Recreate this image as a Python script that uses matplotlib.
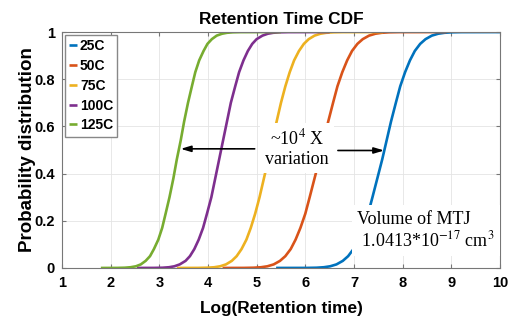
import matplotlib
matplotlib.use("Agg")
import matplotlib.pyplot as plt

levels = [0, 0.0002, 0.001, 0.003, 0.007, 0.015, 0.03, 0.05, 0.08, 0.12, 0.17,
          0.23, 0.3, 0.38, 0.46, 0.54, 0.62, 0.7, 0.77, 0.83, 0.88, 0.92,
          0.95, 0.97, 0.985, 0.993, 0.997, 0.999, 0.9998, 1]

labels = ["25C", "50C", "75C", "100C", "125C"]
colors = ["#0072BD", "#D95319", "#EDB120", "#7E2F8E", "#77AC30"]

# log(retention time) of each curve at the levels above (first = start of flat tail, last = end)
x_25c = [5.40, 6.03, 6.23, 6.38, 6.51, 6.64, 6.77, 6.88, 6.99, 7.09, 7.19,
         7.29, 7.38, 7.48, 7.58, 7.67, 7.76, 7.86, 7.95, 8.05, 8.15, 8.25,
         8.36, 8.47, 8.60, 8.73, 8.86, 9.01, 9.21, 10.0]
x_50c = [4.30, 4.74, 4.94, 5.09, 5.22, 5.35, 5.48, 5.59, 5.70, 5.80, 5.90,
         6.00, 6.09, 6.19, 6.29, 6.38, 6.47, 6.57, 6.66, 6.76, 6.86, 6.96,
         7.07, 7.18, 7.31, 7.44, 7.57, 7.72, 7.92, 8.90]
x_75c = [3.36, 3.79, 3.98, 4.13, 4.25, 4.37, 4.49, 4.59, 4.69, 4.79, 4.88,
         4.97, 5.06, 5.15, 5.24, 5.32, 5.41, 5.50, 5.59, 5.68, 5.77, 5.87,
         5.97, 6.07, 6.19, 6.31, 6.43, 6.58, 6.77, 7.60]
x_100c = [2.54, 2.89, 3.07, 3.20, 3.31, 3.42, 3.54, 3.63, 3.72, 3.81, 3.90,
          3.98, 4.07, 4.15, 4.23, 4.31, 4.39, 4.47, 4.56, 4.64, 4.73, 4.82,
          4.91, 5.00, 5.12, 5.23, 5.34, 5.48, 5.65, 6.50]
x_125c = [1.80, 2.13, 2.29, 2.41, 2.52, 2.62, 2.72, 2.81, 2.89, 2.98, 3.06,
          3.13, 3.21, 3.29, 3.36, 3.44, 3.51, 3.59, 3.67, 3.74, 3.82, 3.91,
          3.99, 4.08, 4.18, 4.29, 4.39, 4.51, 4.67, 5.50]
curves = [x_25c, x_50c, x_75c, x_100c, x_125c]

plt.rcParams["font.family"] = ["Liberation Sans", "DejaVu Sans"]
plt.rcParams["mathtext.fontset"] = "stix"

fig = plt.figure(figsize=(5.16, 3.24), dpi=100)
ax = fig.add_axes([0.120, 0.173, 0.849, 0.728])

for xs, lab, c in zip(curves, labels, colors):
    ax.plot(xs, levels, color=c, lw=1.9, label=lab, solid_capstyle="butt",
            solid_joinstyle="round")

ax.set_xlim(1, 10)
ax.set_ylim(0, 1)
ax.set_xticks(range(1, 11))
ax.set_yticks([0, 0.2, 0.4, 0.6, 0.8, 1])
ax.set_yticklabels(["0", "0.2", "0.4", "0.6", "0.8", "1"])
ax.grid(True, color="#e4e4e4", lw=0.6)
ax.set_axisbelow(True)
for s in ax.spines.values():
    s.set_color("#777777")
    s.set_linewidth(0.8)
ax.tick_params(direction="in", length=3, color="#777777", pad=5,
               labelsize=10.5, top=True, right=True)
ax.tick_params(axis="x", pad=6)
for t in ax.get_xticklabels() + ax.get_yticklabels():
    t.set_fontweight("bold")

ax.set_title("Retention Time CDF", fontsize=12.4, fontweight="bold", pad=6)
ax.set_xlabel("Log(Retention time)", fontsize=12.4, fontweight="bold", labelpad=8)
ax.set_ylabel("Probability distribution", fontsize=13.5, fontweight="bold", labelpad=-1)

leg = ax.legend(loc="upper left", handlelength=0.6, handletextpad=0.2,
                labelspacing=0.42, borderpad=0.3, borderaxespad=0.2, fancybox=False,
                framealpha=1, edgecolor="#888888", prop={"weight": "bold", "size": 10})

serif = ["Liberation Serif", "DejaVu Serif"]
ax.text(5.83, 0.507, "~10$^{4}$ X\nvariation", ha="center", va="center",
        fontsize=13, family=serif, linespacing=1.15, zorder=5,
        bbox=dict(facecolor="white", edgecolor="none", pad=4))
ax.annotate("", xy=(3.44, 0.505), xytext=(4.96, 0.505), zorder=6,
            arrowprops=dict(arrowstyle="-|>,head_length=0.6,head_width=0.18",
                            color="black", lw=1.2, shrinkA=0, shrinkB=0))
ax.annotate("", xy=(7.62, 0.498), xytext=(6.67, 0.498), zorder=6,
            arrowprops=dict(arrowstyle="-|>,head_length=0.6,head_width=0.18",
                            color="black", lw=1.2, shrinkA=0, shrinkB=0))

ax.text(7.07, 0.158, "Volume of MTJ\n 1.0413*10$^{-17}$ cm$^{3}$", ha="left", va="center",
        fontsize=13, family=serif, linespacing=1.2, zorder=5,
        bbox=dict(facecolor="white", edgecolor="none", pad=4))

fig.savefig("out.png", dpi=100)
